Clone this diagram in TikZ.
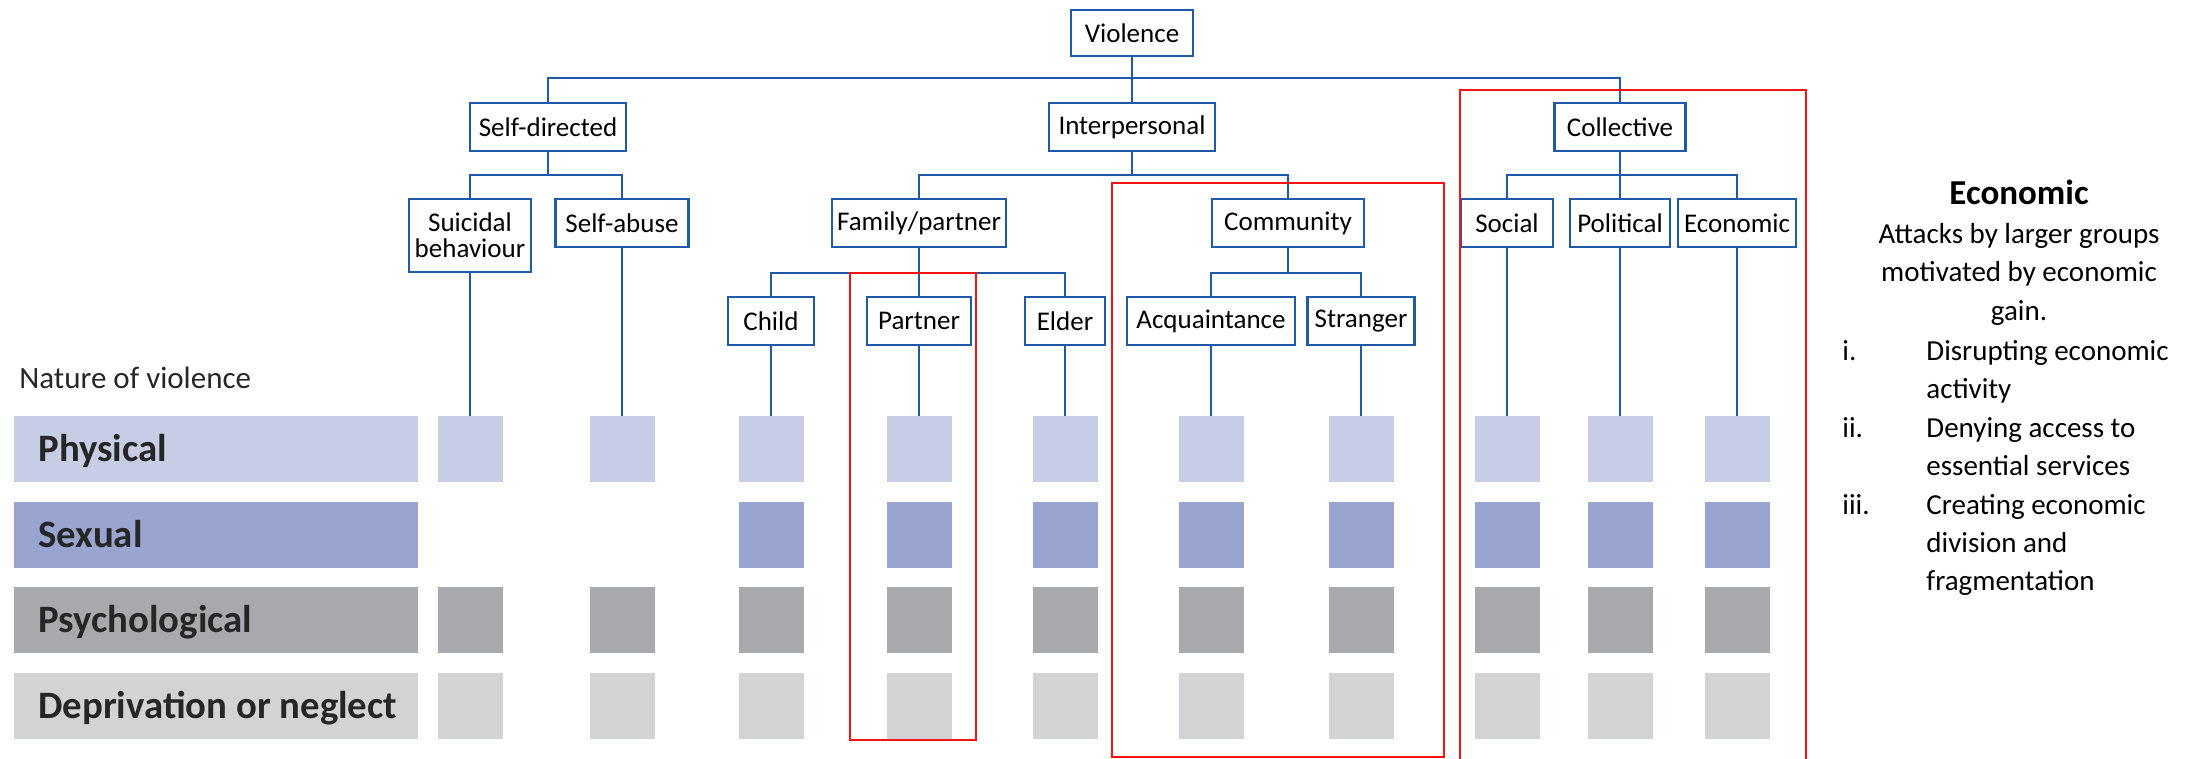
\documentclass[tikz,border=0pt]{standalone}
\usepackage{fontspec}
\setmainfont{Carlito}
\usepackage{tikz}
\usetikzlibrary{positioning,calc}

\definecolor{treeblue}{RGB}{30,90,168}
\definecolor{physfill}{RGB}{200,205,230}
\definecolor{sexfill}{RGB}{153,164,209}
\definecolor{psychfill}{RGB}{168,169,172}
\definecolor{neglfill}{RGB}{210,211,213}
\definecolor{markred}{RGB}{245,20,20}

\tikzset{
  catbox/.style={draw=treeblue, line width=1.2pt, fill=white, inner sep=0pt,
    minimum height=24pt, align=center, font=\fontsize{13.5}{13}\selectfont},
  link/.style={draw=treeblue, line width=0.9pt},
  cell/.style={minimum width=32.5pt, minimum height=33pt, inner sep=0pt},
  bar/.style={anchor=west, minimum width=202pt, minimum height=33pt, inner sep=0pt},
  rowtext/.style={anchor=base west, inner sep=0pt, text=black!85,
    font=\bfseries\fontsize{19.4}{21}\selectfont},
  notetext/.style={anchor=base, inner sep=0pt, font=\fontsize{14.5}{17}\selectfont},
  redframe/.style={draw=markred, line width=1.1pt}
}

\begin{document}
\begin{tikzpicture}[x=0.5pt, y=-0.5pt]
  \useasboundingbox (0,0) rectangle (2210,759);

  % Typology tree
  \node[catbox, minimum width=61pt, minimum height=23pt] (violence) at (1132,33) {Violence};
  \node[catbox, minimum width=78pt] (selfdir) at (548,127) {Self-directed};
  \node[catbox, minimum width=83pt] (inter) at (1132,127) {Interpersonal};
  \node[catbox, minimum width=65.5pt] (coll) at (1620,127) {Collective};

  \node[catbox, minimum width=61pt, minimum height=36.5pt] (suicidal) at (470,235.5) {Suicidal\\behaviour};
  \node[catbox, minimum width=66.5pt] (selfabuse) at (622,223) {Self-abuse};
  \node[catbox, minimum width=87pt] (family) at (919,223) {Family/partner};
  \node[catbox, minimum width=76pt] (community) at (1288,223) {Community};
  \node[catbox, minimum width=46pt] (social) at (1507,223) {Social};
  \node[catbox, minimum width=50pt] (political) at (1620,223) {Political};
  \node[catbox, minimum width=59pt] (economic) at (1737,223) {Economic};

  \node[catbox, minimum width=43pt] (child) at (771,321) {Child};
  \node[catbox, minimum width=52pt] (partner) at (919,321) {Partner};
  \node[catbox, minimum width=40pt] (elder) at (1065,321) {Elder};
  \node[catbox, minimum width=84pt] (acq) at (1211,321) {Acquaintance};
  \node[catbox, minimum width=53.5pt] (stranger) at (1361,321) {Stranger};

  % Branch lines
  \coordinate (busA) at (0,78);
  \coordinate (busB) at (0,175);
  \coordinate (busC) at (0,273);
  \draw[link] (violence.south) -- (violence.south |- busA) -| (selfdir.north);
  \draw[link] (violence.south) -- (violence.south |- busA) -| (inter.north);
  \draw[link] (violence.south) -- (violence.south |- busA) -| (coll.north);
  \foreach \kid in {suicidal, selfabuse}
    \draw[link] (selfdir.south) -- (selfdir.south |- busB) -| (\kid.north);
  \foreach \kid in {family, community}
    \draw[link] (inter.south) -- (inter.south |- busB) -| (\kid.north);
  \foreach \kid in {social, political, economic}
    \draw[link] (coll.south) -- (coll.south |- busB) -| (\kid.north);
  \foreach \kid in {child, partner, elder}
    \draw[link] (family.south) -- (family.south |- busC) -| (\kid.north);
  \foreach \kid in {acq, stranger}
    \draw[link] (community.south) -- (community.south |- busC) -| (\kid.north);

  % Nature of violence
  \node[anchor=base west, inner sep=0pt, text=black!85, font=\fontsize{15.5}{17}\selectfont] (nature) at (19,388) {Nature of violence};
  \foreach \lab/\shade/\ry [count=\r] in {Physical/physfill/449, Sexual/sexfill/535,
      Psychological/psychfill/620, Deprivation or neglect/neglfill/706} {
    \node[bar, fill=\shade] (bar\r) at (14,\ry) {};
    \node[rowtext] (rowlab\r) at (38,\ry+12) {\lab};
  }

  % Cells
  \foreach \cx [count=\c] in {470,622,771,919,1065,1211,1361,1507,1620,1737} {
    \node[cell, fill=physfill] (phys\c) at (\cx,449) {};
    \node[cell, fill=psychfill] (psych\c) at (\cx,620) {};
    \node[cell, fill=neglfill] (negl\c) at (\cx,706) {};
  }
  \foreach \cx [count=\c from 3] in {771,919,1065,1211,1361,1507,1620,1737}
    \node[cell, fill=sexfill] (sex\c) at (\cx,535) {};
  \foreach \leaf [count=\c] in {suicidal,selfabuse,child,partner,elder,acq,stranger,social,political,economic}
    \draw[link] (\leaf) -- (phys\c);

  % Highlight frames
  \draw[redframe] (850,273) rectangle (976,740);
  \draw[redframe] (1112,183) rectangle (1444,757);
  \draw[redframe] (1460,90) rectangle (1806,775);

  % Note on economic violence
  \node[notetext, font=\bfseries\fontsize{17.5}{20}\selectfont] (notehead) at (2019,205) {Economic};
  \node[notetext] (noteline1) at (2019,244) {Attacks by larger groups};
  \node[notetext] (noteline2) at (2019,282) {motivated by economic};
  \node[notetext] (noteline3) at (2019,320) {gain.};
  \node[notetext, anchor=base west] (numi) at (1842,360) {i.};
  \node[notetext, anchor=base west] (numii) at (1842,437) {ii.};
  \node[notetext, anchor=base west] (numiii) at (1842,514) {iii.};
  \foreach \txt/\ly [count=\k] in {Disrupting economic/360, activity/398, Denying access to/437,
      essential services/475, Creating economic/514, division and/552, fragmentation/590}
    \node[notetext, anchor=base west] (item\k) at (1926,\ly) {\txt};
\end{tikzpicture}
\end{document}
